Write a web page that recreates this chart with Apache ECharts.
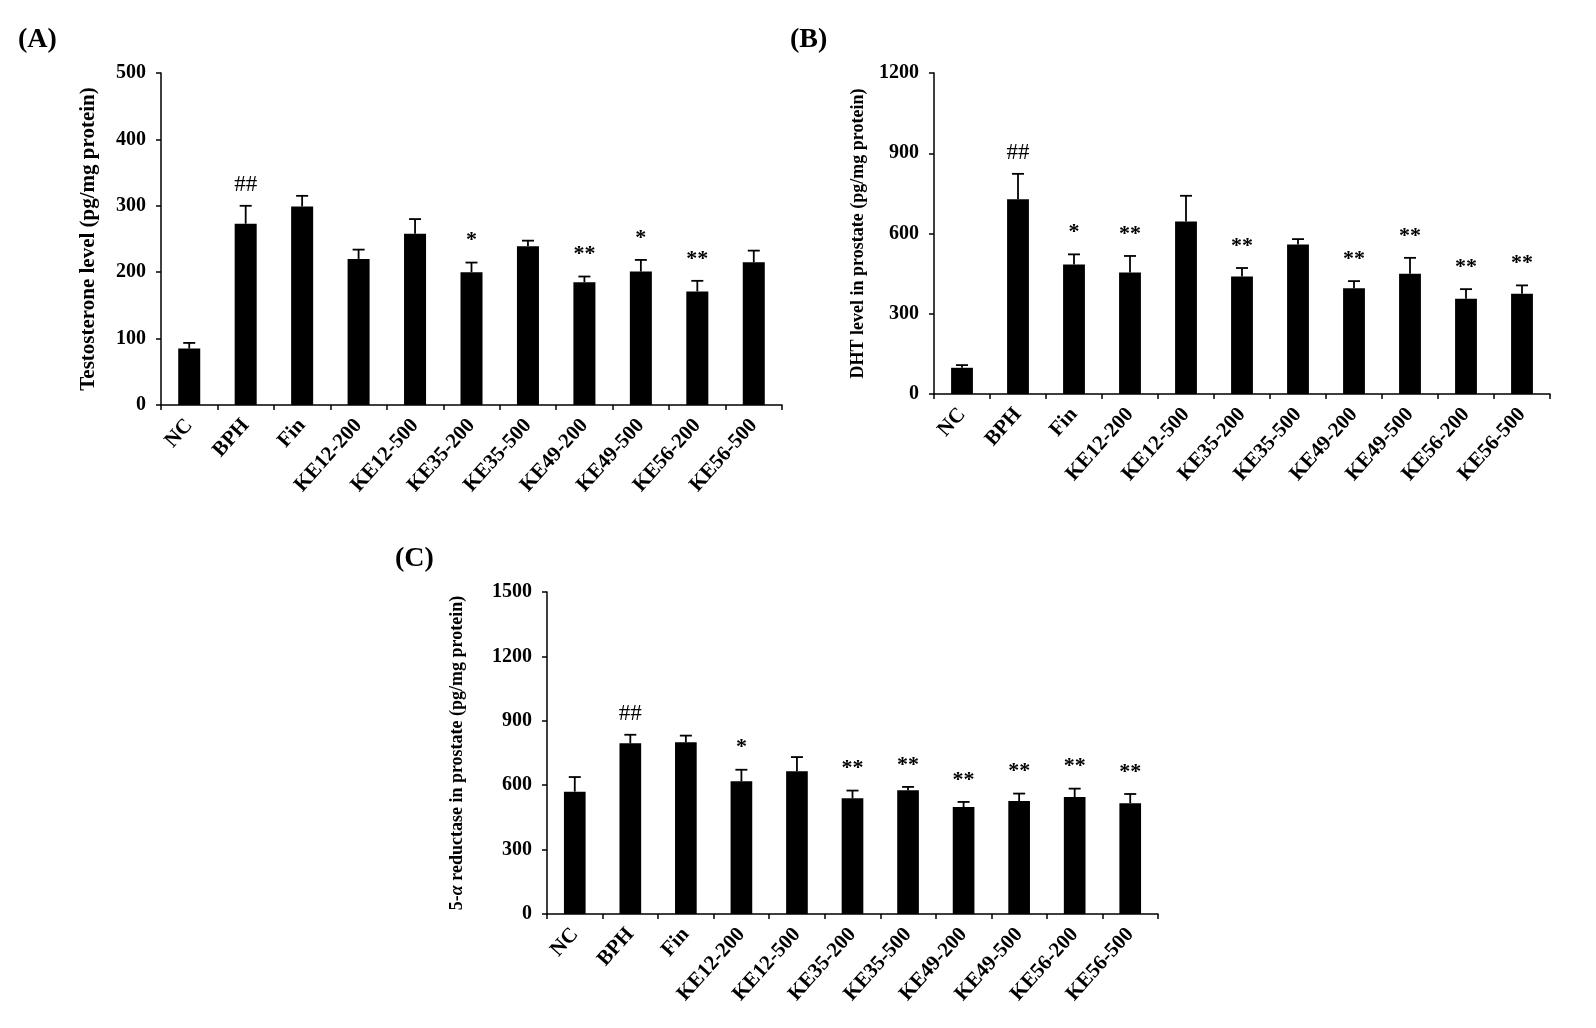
<!DOCTYPE html>
<html><head><meta charset="utf-8">
<script src="https://cdn.jsdelivr.net/npm/echarts@6/dist/echarts.min.js"></script>
<style>html,body{margin:0;padding:0;background:#fff;}#c{width:1596px;height:1028px;}</style>
</head><body><div id="c"></div>
<script>
const categories = ['NC','BPH','Fin','KE12-200','KE12-500','KE35-200','KE35-500','KE49-200','KE49-500','KE56-200','KE56-500'];
const testosterone    = [85, 273, 299, 220, 258, 200, 239, 185, 201, 171, 215];
const testosteroneErr = [8.5, 27, 16, 14, 22, 14.5, 8.5, 8.5, 17.5, 16, 17.5];
const testosteroneSig = ['', '##', '', '', '', '*', '', '**', '*', '**', ''];
const dht    = [98, 728, 484, 454, 645, 439, 559, 395, 450, 356, 375];
const dhtErr = [10, 95, 38, 62, 96, 32, 20, 27, 59, 36, 31];
const dhtSig = ['', '##', '*', '**', '', '**', '', '**', '**', '**', '**'];
const reductase    = [570, 795, 800, 618, 665, 539, 576, 498, 526, 545, 516];
const reductaseErr = [68, 40, 31, 54, 66, 36, 16, 24, 35, 39, 43];
const reductaseSig = ['', '##', '', '*', '', '**', '**', '**', '**', '**', '**'];
const yTicksA = {min: 0, max: 500, interval: 100};
const yTicksB = {min: 0, max: 1200, interval: 300};
const yTicksC = {min: 0, max: 1500, interval: 300};

const FONT = '"Liberation Serif","Times New Roman",serif';
const chart = echarts.init(document.getElementById('c'), null, {renderer: 'canvas'});

function xAxis(gi) {
  return {
    type: 'category', gridIndex: gi, data: categories, boundaryGap: true,
    axisLine: {lineStyle: {color: '#000', width: 1.5}},
    axisTick: {show: true, length: 5, lineStyle: {color: '#000', width: 1.5}},
    axisLabel: {rotate: 48, interval: 0, margin: 17, color: '#000', fontFamily: FONT, fontWeight: 'bold', fontSize: 21}
  };
}
function yAxis(gi, t, name, gap, size) {
  return {
    type: 'value', gridIndex: gi, min: t.min, max: t.max, interval: t.interval,
    name: name, nameLocation: 'middle', nameGap: gap, nameRotate: 90,
    nameTextStyle: {color: '#000', fontFamily: FONT, fontWeight: 'bold', fontSize: size,
      rich: {i: {fontStyle: 'italic', fontFamily: FONT, fontWeight: 'bold', fontSize: size, color: '#000'}}},
    splitLine: {show: false},
    axisLine: {show: true, lineStyle: {color: '#000', width: 1.5}},
    axisTick: {show: true, length: 5, lineStyle: {color: '#000', width: 1.5}},
    axisLabel: {margin: 15, color: '#000', fontFamily: FONT, fontWeight: 'bold', fontSize: 20,
      formatter: function (v) { return String(v); }}
  };
}
function bars(gi, vals) {
  return {type: 'bar', xAxisIndex: gi, yAxisIndex: gi, data: vals, barWidth: '39%',
    itemStyle: {color: '#000'}, silent: true, animation: false};
}
function errs(gi, vals, err, sig) {
  return {
    type: 'custom', xAxisIndex: gi, yAxisIndex: gi, z: 5, animation: false, silent: true,
    data: vals.map((v, i) => [i, v, err[i]]),
    renderItem: function (params, api) {
      const i = api.value(0), v = api.value(1), e = api.value(2);
      const p0 = api.coord([i, v]);
      const p1 = api.coord([i, v + e]);
      const st = {stroke: '#000', lineWidth: 1.8};
      const children = [
        {type: 'line', shape: {x1: p0[0], y1: p0[1], x2: p1[0], y2: p1[1]}, style: st},
        {type: 'line', shape: {x1: p1[0] - 6, y1: p1[1], x2: p1[0] + 6, y2: p1[1]}, style: st}
      ];
      const s = sig[params.dataIndex];
      if (s) {
        const isHash = s.indexOf('#') >= 0;
        children.push({type: 'text', style: {text: s, x: p1[0], y: p1[1] - (isHash ? 9 : 11),
          align: 'center', verticalAlign: 'bottom',
          font: (isHash ? 'normal 23px ' : 'bold 22px ') + FONT, fill: '#000'}});
      }
      return {type: 'group', children: children};
    }
  };
}

chart.setOption({
  backgroundColor: '#fff',
  animation: false,
  grid: [
    {left: 161, top: 73, width: 621, height: 332},
    {left: 934, top: 73, width: 616, height: 321},
    {left: 547, top: 592, width: 611, height: 322}
  ],
  xAxis: [xAxis(0), xAxis(1), xAxis(2)],
  yAxis: [
    yAxis(0, yTicksA, 'Testosterone level (pg/mg protein)', 62, 21),
    yAxis(1, yTicksB, 'DHT level in prostate (pg/mg protein)', 67, 18),
    yAxis(2, yTicksC, '5-{i|α} reductase in prostate (pg/mg protein)', 81, 18)
  ],
  series: [
    bars(0, testosterone), errs(0, testosterone, testosteroneErr, testosteroneSig),
    bars(1, dht), errs(1, dht, dhtErr, dhtSig),
    bars(2, reductase), errs(2, reductase, reductaseErr, reductaseSig)
  ],
  graphic: [
    {type: 'text', left: 18, top: 26, style: {text: '(A)', font: 'bold 28px ' + FONT, fill: '#000'}},
    {type: 'text', left: 790, top: 26, style: {text: '(B)', font: 'bold 28px ' + FONT, fill: '#000'}},
    {type: 'text', left: 395, top: 545, style: {text: '(C)', font: 'bold 28px ' + FONT, fill: '#000'}}
  ]
});
</script></body></html>
